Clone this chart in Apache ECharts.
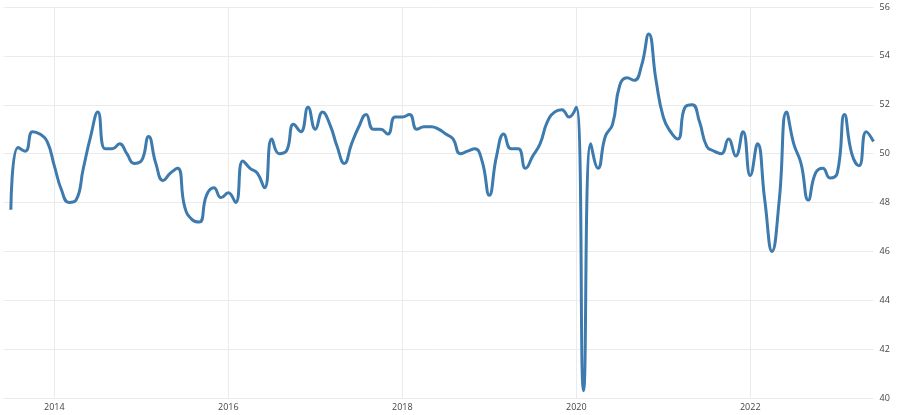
<!DOCTYPE html>
<html>
<head>
<meta charset="utf-8">
<title>PMI</title>
<script src="https://cdn.jsdelivr.net/npm/echarts@6/dist/echarts.min.js"></script>
<style>
    html, body { margin: 0; padding: 0; background: #fff; }
    #main { width: 900px; height: 415px; }
</style>
</head>
<body>
<div id="main"></div>
<script>
// monthly values, one array per year
var firstMonth2013 = 7;
var v2013 = [47.7, 50.25, 50.1, 50.9, 50.8, 50.5];
var v2014 = [49.5, 48.5, 48.0, 48.1, 49.4, 50.7, 51.7, 50.2, 50.2, 50.4, 50.0, 49.6];
var v2015 = [49.7, 50.7, 49.6, 48.9, 49.2, 49.4, 47.8, 47.3, 47.2, 48.3, 48.6, 48.2];
var v2016 = [48.4, 48.0, 49.7, 49.4, 49.2, 48.6, 50.6, 50.0, 50.1, 51.2, 50.9, 51.9];
var v2017 = [51.0, 51.7, 51.2, 50.3, 49.6, 50.4, 51.1, 51.6, 51.0, 51.0, 50.8, 51.5];
var v2018 = [51.5, 51.6, 51.0, 51.1, 51.1, 51.0, 50.8, 50.6, 50.0, 50.1, 50.2, 49.7];
var v2019 = [48.3, 49.9, 50.8, 50.2, 50.2, 49.4, 49.9, 50.4, 51.3, 51.7, 51.8, 51.5];
var v2020 = [51.9, 40.3, 50.4, 49.4, 50.7, 51.2, 52.8, 53.1, 53.0, 53.6, 54.9, 53.0];
var v2021 = [51.5, 50.9, 50.6, 51.9, 52.0, 51.3, 50.3, 50.1, 50.0, 50.6, 49.9, 50.9];
var v2022 = [49.1, 50.4, 48.1, 46.0, 48.1, 51.7, 50.4, 49.6, 48.1, 49.2, 49.4, 49.0];
var v2023 = [49.2, 51.6, 50.0, 49.5, 50.9, 50.5];

var years = [2013, 2014, 2015, 2016, 2017, 2018, 2019, 2020, 2021, 2022, 2023];
var yearValues = [v2013, v2014, v2015, v2016, v2017, v2018, v2019, v2020, v2021, v2022, v2023];
var labelYears = ['2014', '2016', '2018', '2020', '2022'];

function pad(n) {
    return n < 10 ? '0' + n : '' + n;
}

// one empty month in front so the line starts a little in from the edge
var categories = ['2013-' + pad(firstMonth2013 - 1)];
var values = [null];
years.forEach(function (y, i) {
    var start = i === 0 ? firstMonth2013 : 1;
    yearValues[i].forEach(function (v, j) {
        categories.push(y + '-' + pad(start + j));
        values.push(v);
    });
});

function isYearTick(idx) {
    var c = categories[idx];
    return c.slice(5) === '01' && labelYears.indexOf(c.slice(0, 4)) >= 0;
}

var myChart = echarts.init(document.getElementById('main'));
var option = {
    animation: false,
    backgroundColor: '#fff',
    grid: {
        left: 3.6,
        right: 26.5,
        top: 7,
        bottom: 17,
        containLabel: false
    },
    xAxis: {
        type: 'category',
        data: categories,
        boundaryGap: false,
        axisLine: { show: false },
        axisTick: { show: false },
        axisLabel: {
            interval: function (idx) { return isYearTick(idx); },
            formatter: function (val) { return val.slice(0, 4); },
            color: '#444',
            fontSize: 9,
            fontFamily: 'Open Sans',
            margin: 5
        },
        splitLine: {
            show: true,
            interval: function (idx) { return isYearTick(idx); },
            lineStyle: { color: '#ebebeb', width: 1 }
        }
    },
    yAxis: {
        type: 'value',
        position: 'right',
        min: 40,
        max: 56,
        interval: 2,
        axisLine: { show: false },
        axisTick: { show: false },
        axisLabel: {
            color: '#444',
            fontSize: 9,
            fontFamily: 'Open Sans',
            margin: 6
        },
        splitLine: {
            lineStyle: { color: '#ebebeb', width: 1 }
        }
    },
    series: [
        {
            type: 'line',
            data: values,
            smooth: 0.5,
            showSymbol: false,
            lineStyle: { color: '#3d7aad', width: 3 }
        }
    ]
};
myChart.setOption(option, true);
</script>
</body>
</html>
